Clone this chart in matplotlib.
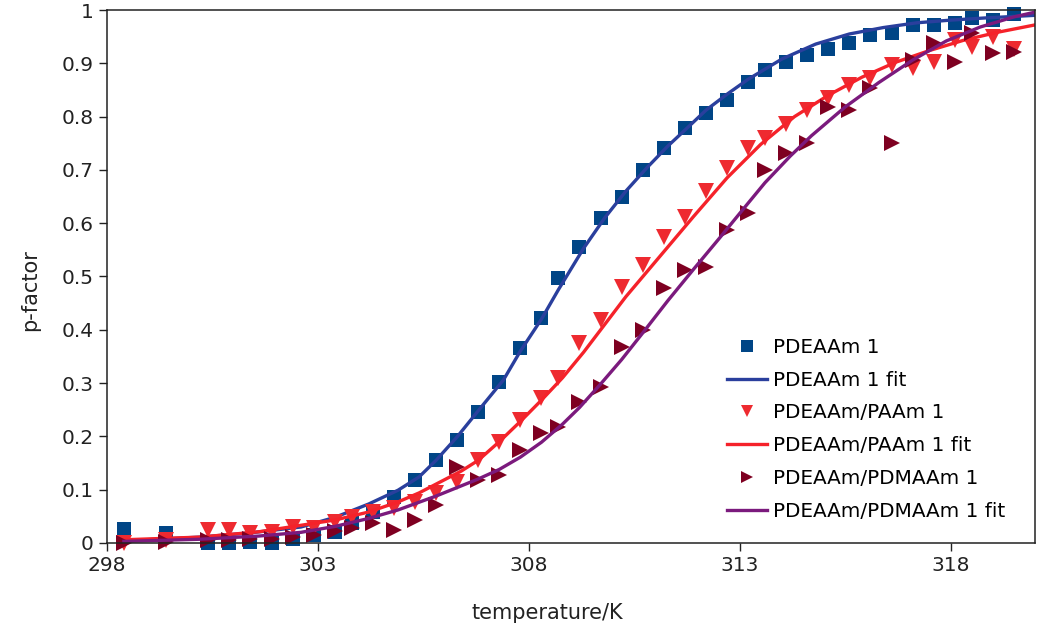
"""
p-factor vs temperature for PDEAAm and its copolymers, measured points
plus fitted curves.
"""

import matplotlib
matplotlib.use("Agg")
import matplotlib.pyplot as plt
from matplotlib.ticker import FormatStrFormatter, FuncFormatter

# measurement temperatures (K), shared by all three samples
temperature = [
    298.4, 299.4, 300.4, 300.9, 301.4, 301.9, 302.4, 302.9, 303.4, 303.8,
    304.3, 304.8, 305.3, 305.8, 306.3, 306.8, 307.3, 307.8, 308.3, 308.7,
    309.2, 309.7, 310.2, 310.7, 311.2, 311.7, 312.2, 312.7, 313.2, 313.6,
    314.1, 314.6, 315.1, 315.6, 316.1, 316.6, 317.1, 317.6, 318.1, 318.5,
    319.0, 319.5,
]

pdeaam = [
    0.026, 0.019, 0.0, 0.0, 0.002, 0.0, 0.008, 0.015, 0.021, 0.038,
    0.058, 0.086, 0.118, 0.156, 0.193, 0.246, 0.302, 0.366, 0.422, 0.497,
    0.555, 0.610, 0.649, 0.700, 0.741, 0.779, 0.807, 0.831, 0.865, 0.887,
    0.902, 0.916, 0.927, 0.938, 0.953, 0.957, 0.972, 0.972, 0.976, 0.985,
    0.981, 0.992,
]

pdeaam_paam = [
    0.0, 0.006, 0.024, 0.024, 0.019, 0.021, 0.030, 0.028, 0.039, 0.049,
    0.058, 0.066, 0.077, 0.094, 0.114, 0.156, 0.189, 0.231, 0.272, 0.310,
    0.375, 0.418, 0.480, 0.522, 0.574, 0.612, 0.660, 0.704, 0.741, 0.760,
    0.786, 0.812, 0.835, 0.859, 0.872, 0.897, 0.891, 0.902, 0.944, 0.931,
    0.949, 0.927,
]

pdeaam_pdmaam = [
    0.0, 0.002, 0.006, 0.006, 0.008, 0.008, 0.011, 0.015, 0.023, 0.028,
    0.038, 0.024, 0.043, 0.071, 0.143, 0.118, 0.128, 0.174, 0.206, 0.218,
    0.265, 0.293, 0.368, 0.400, 0.478, 0.512, 0.518, 0.587, 0.619, 0.700,
    0.732, 0.750, 0.818, 0.812, 0.854, 0.750, 0.906, 0.938, 0.902, 0.957,
    0.919, 0.921,
]

# fitted curves
fit1_t = [
    298.4, 300.2, 301.4, 302.6, 303.4, 304.2, 304.9, 305.4, 305.8, 306.3,
    306.8, 307.4, 307.8, 308.3, 308.7, 309.3, 309.8, 310.3, 310.8, 311.3,
    311.8, 312.2, 312.7, 313.2, 314.0, 314.8, 315.6, 316.4, 317.2, 318.0,
    318.8, 320.0,
]
fit1_p = [
    0.004, 0.011, 0.019, 0.030, 0.048, 0.073, 0.099, 0.124, 0.155, 0.199,
    0.248, 0.306, 0.360, 0.420, 0.475, 0.553, 0.610, 0.660, 0.704, 0.745,
    0.782, 0.812, 0.842, 0.870, 0.908, 0.936, 0.955, 0.967, 0.976, 0.981,
    0.985, 0.990,
]

fit2_t = [
    298.4, 300.2, 301.6, 303.4, 304.2, 304.9, 305.4, 306.4, 306.8, 307.3,
    307.8, 308.3, 308.8, 309.3, 309.8, 310.3, 311.1, 311.9, 312.7, 313.5,
    314.3, 315.1, 315.9, 316.7, 317.5, 318.3, 319.1, 320.0,
]
fit2_p = [
    0.006, 0.011, 0.021, 0.043, 0.058, 0.077, 0.094, 0.135, 0.155, 0.190,
    0.228, 0.268, 0.310, 0.358, 0.410, 0.462, 0.537, 0.612, 0.685, 0.748,
    0.800, 0.840, 0.874, 0.902, 0.924, 0.943, 0.958, 0.972,
]

fit3_t = [
    298.4, 300.2, 301.6, 302.6, 303.4, 304.2, 304.9, 305.8, 306.8, 307.3,
    307.8, 308.3, 308.8, 309.2, 309.7, 310.2, 310.7, 311.3, 311.9, 312.5,
    313.1, 313.6, 314.2, 314.7, 315.5, 316.3, 317.1, 317.9, 318.7, 319.5,
    320.0,
]
fit3_p = [
    0.003, 0.007, 0.013, 0.020, 0.031, 0.046, 0.062, 0.088, 0.120, 0.138,
    0.161, 0.189, 0.223, 0.254, 0.298, 0.344, 0.394, 0.455, 0.513, 0.570,
    0.628, 0.676, 0.726, 0.764, 0.818, 0.864, 0.906, 0.942, 0.968, 0.987,
    0.996,
]

x_ticks = [298, 303, 308, 313, 318]


def main() -> None:
    plt.rcParams["font.family"] = ["DejaVu Sans"]

    fig = plt.figure(figsize=(10.39, 6.37), dpi=100)
    ax = fig.add_axes([0.103, 0.1476, 0.8931, 0.8367])

    ax.plot(temperature, pdeaam, ls="none", marker="s", ms=10.5,
            color="#004586", mew=0, clip_on=False, label="PDEAAm 1")
    ax.plot(fit1_t, fit1_p, color="#2a3f9d", lw=2.4, label="PDEAAm 1 fit")
    ax.plot(temperature, pdeaam_paam, ls="none", marker="v", ms=11,
            color="#ee2a30", mew=0, clip_on=False, label="PDEAAm/PAAm 1")
    ax.plot(fit2_t, fit2_p, color="#f5222a", lw=2.4,
            label="PDEAAm/PAAm 1 fit")
    ax.plot(temperature, pdeaam_pdmaam, ls="none", marker=">", ms=11,
            color="#7e0021", mew=0, clip_on=False, label="PDEAAm/PDMAAm 1")
    ax.plot(fit3_t, fit3_p, color="#7b1a7d", lw=2.4,
            label="PDEAAm/PDMAAm 1 fit")

    ax.set_xlim(298, 320)
    ax.set_ylim(0, 1)
    ax.set_xticks(x_ticks)
    ax.set_yticks([i / 10 for i in range(11)])
    ax.yaxis.set_major_formatter(FuncFormatter(lambda v, _: f"{v:g}"))
    ax.xaxis.set_major_formatter(FormatStrFormatter("%d"))
    ax.tick_params(labelsize=14.5, length=6, width=1, direction="out",
                   colors="#222222")
    for s in ax.spines.values():
        s.set_linewidth(1.1)
        s.set_color("#222222")

    ax.set_xlabel("temperature/K", fontsize=15, color="#222222")
    ax.xaxis.set_label_coords(0.475, -0.113)
    ax.set_ylabel("p-factor", fontsize=15, color="#222222")
    ax.yaxis.set_label_coords(-0.072, 0.475)

    ax.legend(loc="upper left", bbox_to_anchor=(0.6595, 0.40),
              frameon=False, fontsize=14.4, numpoints=1, handlelength=2.0,
              handletextpad=0.3, labelspacing=0.69, markerscale=0.85,
              borderaxespad=0)

    fig.savefig("out.png", dpi=100)


if __name__ == "__main__":
    main()
